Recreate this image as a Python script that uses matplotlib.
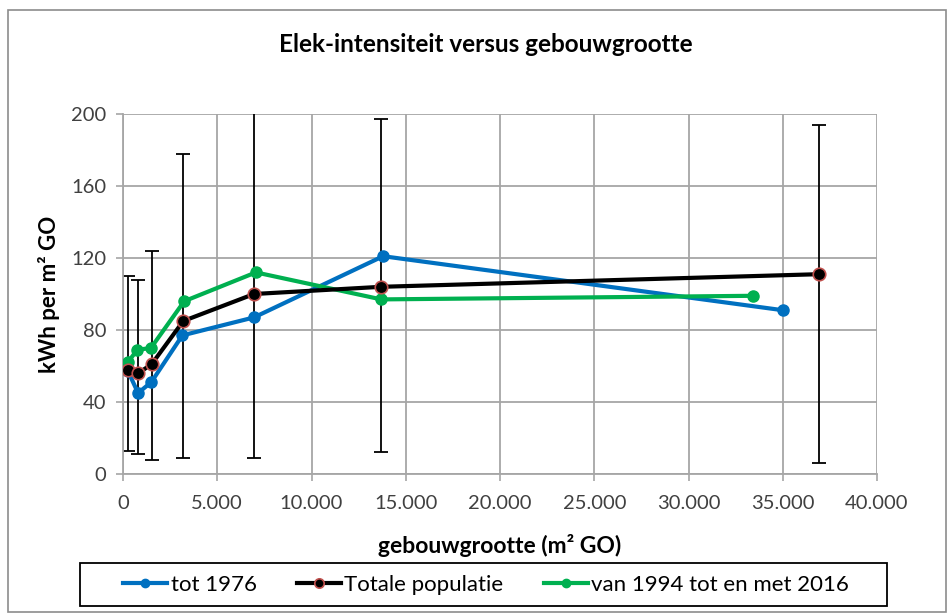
import matplotlib.pyplot as plt
from matplotlib.patches import Rectangle
from matplotlib.ticker import FuncFormatter
import numpy as np

plt.rcParams['font.family'] = ['Lato', 'DejaVu Sans']

# Data
x_tot1976 = [270, 800, 1500, 3150, 6950, 13800, 35000]
y_tot1976 = [57, 45, 51, 77, 87, 121, 91]

x_totaal = [280, 810, 1520, 3200, 6950, 13700, 36900]
y_totaal = [58, 56, 61, 85, 100, 104, 111]
err_low = [13, 11, 8, 9, 9, 12, 6]
err_high = [110, 108, 124, 178, 215, 197, 194]

x_1994 = [250, 760, 1480, 3250, 7050, 13700, 33400]
y_1994 = [62, 69, 70, 96, 112, 97, 99]

BLUE = '#0070c0'
GREEN = '#00b050'
GRID = '#a6a6a6'

fig = plt.figure(figsize=(9.52, 6.14), dpi=100)
# outer chart border
fig.patches.append(Rectangle((8 / 952, 2 / 614), 938 / 952, 602 / 614,
                             transform=fig.transFigure, fill=False,
                             edgecolor='#8c8c8c', linewidth=1.2))
# legend box
fig.patches.append(Rectangle((80 / 952, 1 - 606 / 614), 807 / 952, 43 / 614,
                             transform=fig.transFigure, fill=False,
                             edgecolor='black', linewidth=1.3))

ax = fig.add_axes([123 / 952, 1 - 474 / 614, 754 / 952, 360 / 614])

yt = np.array(y_totaal)
yerr = [yt - np.array(err_low), np.array(err_high) - yt]
ax.errorbar(x_totaal, y_totaal, yerr=yerr, fmt='none', ecolor='black',
            elinewidth=1.3, capsize=5, capthick=1.3, zorder=2)

ax.plot(x_tot1976, y_tot1976, color=BLUE, lw=3, marker='o', ms=8,
        label='tot 1976', zorder=3)
ax.plot(x_totaal, y_totaal, color='black', lw=3, marker='o', ms=9,
        markeredgecolor='#c0504d', markeredgewidth=1.2,
        label='Totale populatie', zorder=4)
ax.plot(x_1994, y_1994, color=GREEN, lw=3, marker='o', ms=8,
        label='van 1994 tot en met 2016', zorder=3)

ax.set_xlim(0, 40000)
ax.set_ylim(0, 200)
ax.set_xticks(np.arange(0, 40001, 5000))
ax.set_yticks(np.arange(0, 201, 40))
ax.xaxis.set_major_formatter(FuncFormatter(lambda v, p: f'{v:,.0f}'.replace(',', '.')))
ax.grid(True, color=GRID, linewidth=1.3, zorder=0)
ax.set_axisbelow(True)
for s in ['top', 'right']:
    ax.spines[s].set_visible(False)
for s in ['left', 'bottom']:
    ax.spines[s].set_color(GRID)
    ax.spines[s].set_linewidth(1.3)
ax.tick_params(axis='both', colors=GRID, labelcolor='#404040', labelsize=14.5,
               length=5, width=1.2)
ax.tick_params(axis='x', pad=10)
ax.tick_params(axis='y', pad=7)

ax.set_xlabel('gebouwgrootte (m² GO)', fontsize=16.5, fontweight='bold', labelpad=16)
ax.set_ylabel('kWh per m² GO', fontsize=16, fontweight='bold', labelpad=8)
fig.text(486 / 952, 1 - 45 / 614, 'Elek-intensiteit versus gebouwgrootte',
         ha='center', va='center', fontsize=17.5, fontweight='bold')

fig.legend(loc='center', ncol=3, bbox_to_anchor=(486 / 952, 1 - 585 / 614),
           fontsize=16, frameon=False, handlelength=2.0, handletextpad=0.15,
           columnspacing=1.8, markerscale=0.75, borderaxespad=0)

fig.savefig('out.png', dpi=100)
